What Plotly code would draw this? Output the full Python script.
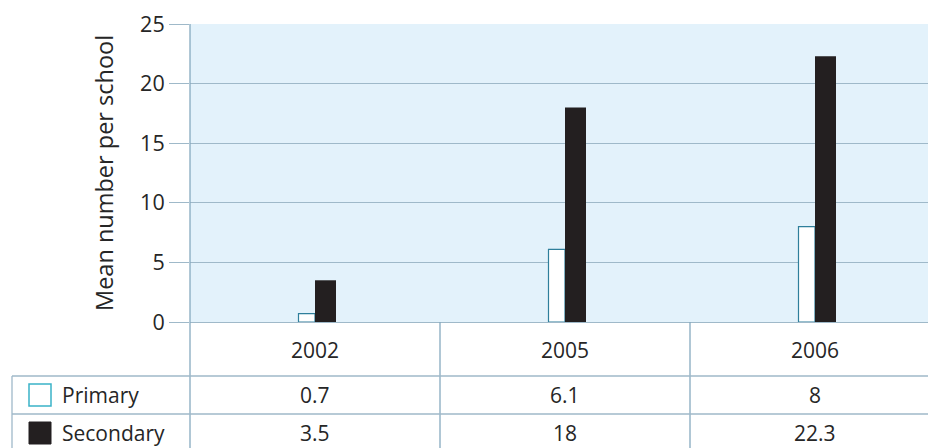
import plotly.graph_objects as go

# Data
years = ["2002", "2005", "2006"]
primary = [0.7, 6.1, 8]
secondary = [3.5, 18, 22.3]
series_names = ["Primary", "Secondary"]
y_ticks = [0, 5, 10, 15, 20, 25]

W, H = 928, 448
ML, MT, MB = 190, 24, 126
plot_h = H - MT - MB

FONT = "Open Sans"
TXT = "#262626"
GRID = "#9fb9c9"
RULE = "#86a9bf"
BG = "#e3f2fb"
PRIM_LINE = "#2f7f9b"
SEC_FILL = "#231f20"

x_idx = list(range(len(years)))

fig = go.Figure()
fig.add_trace(go.Bar(
    x=x_idx, y=primary, name=series_names[0],
    width=0.066, offset=-0.066,
    marker=dict(color="white", line=dict(color=PRIM_LINE, width=1.2)),
))
fig.add_trace(go.Bar(
    x=x_idx, y=secondary, name=series_names[1],
    width=0.084, offset=0.0,
    marker=dict(color=SEC_FILL, line=dict(width=0)),
))


def py(px):
    """Convert a pixel row (from top of page) to paper y."""
    return (H - MB - px) / plot_h


def px_x(px):
    """Convert a pixel column to paper x."""
    return (px - ML) / (W - ML)


shapes = []
# left axis rule running down through the data table
shapes.append(dict(type="line", xref="paper", yref="paper",
                   x0=0, x1=0, y0=py(H), y1=1,
                   line=dict(color=RULE, width=1.3)))
# column separators in the table
for b in [0.5, 1.5]:
    shapes.append(dict(type="line", xref="x", yref="paper",
                       x0=b, x1=b, y0=py(H), y1=0,
                       line=dict(color=RULE, width=1.3)))
# row rules of the table
row_lines = [376, 414]
for r in row_lines:
    shapes.append(dict(type="line", xref="paper", yref="paper",
                       x0=px_x(12), x1=1, y0=py(r), y1=py(r),
                       line=dict(color=GRID, width=1.3)))
# table left border (series rows)
shapes.append(dict(type="line", xref="paper", yref="paper",
                   x0=px_x(12), x1=px_x(12), y0=py(H), y1=py(376),
                   line=dict(color=GRID, width=1.3)))
# legend swatches in the table rows
row_centers = [395, 433]
swatch_styles = [
    dict(fillcolor="white", line=dict(color="#3ab3c8", width=1.5)),
    dict(fillcolor=SEC_FILL, line=dict(color=SEC_FILL, width=1)),
]
for rc, st in zip(row_centers, swatch_styles):
    shapes.append(dict(type="rect", xref="paper", yref="paper",
                       x0=px_x(29), x1=px_x(51), y0=py(rc + 11), y1=py(rc - 11),
                       **st))

annotations = []
# header row: years
for i, yr in enumerate(years):
    annotations.append(dict(x=i, y=py(350), xref="x", yref="paper",
                            text=yr, showarrow=False,
                            font=dict(family=FONT, size=21, color=TXT),
                            xanchor="center", yanchor="middle"))
# series rows: names and values
for rc, name, vals in zip(row_centers, series_names, [primary, secondary]):
    annotations.append(dict(x=px_x(60), y=py(rc), xref="paper", yref="paper",
                            text=name, showarrow=False,
                            font=dict(family=FONT, size=21, color=TXT),
                            xanchor="left", yanchor="middle"))
    for i, v in enumerate(vals):
        annotations.append(dict(x=i, y=py(rc), xref="x", yref="paper",
                                text=f"{v:g}", showarrow=False,
                                font=dict(family=FONT, size=21, color=TXT),
                                xanchor="center", yanchor="middle"))
# y axis title
annotations.append(dict(x=px_x(104), y=0.5, xref="paper", yref="paper",
                        text="Mean number per school", textangle=-90,
                        showarrow=False,
                        font=dict(family=FONT, size=23.5, color=TXT),
                        xanchor="center", yanchor="middle"))

fig.update_layout(
    width=W, height=H,
    margin=dict(l=ML, r=0, t=MT, b=MB, pad=0),
    paper_bgcolor="white",
    plot_bgcolor=BG,
    barmode="overlay",
    showlegend=False,
    shapes=shapes,
    annotations=annotations,
    font=dict(family=FONT, color=TXT),
)
fig.update_xaxes(range=[-0.5, 2.452], showticklabels=False, showgrid=False,
                 zeroline=False, showline=False, ticks="", fixedrange=True)
fig.update_yaxes(range=[0, 25], tickvals=y_ticks, showgrid=True,
                 gridcolor=GRID, gridwidth=1.3, zeroline=True,
                 zerolinecolor=GRID, zerolinewidth=1.3,
                 ticks="outside", ticklen=20, tickcolor=GRID, tickwidth=1.3,
                 tickfont=dict(family=FONT, size=21.5, color=TXT),
                 showline=False)

fig.write_html("out.html")
